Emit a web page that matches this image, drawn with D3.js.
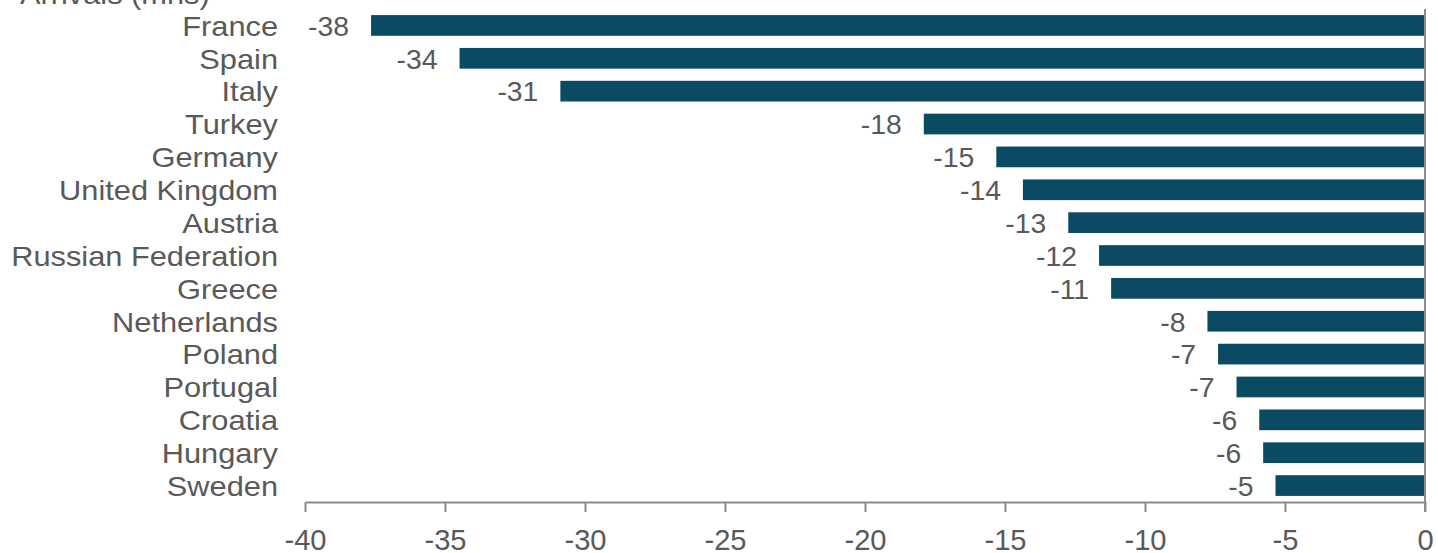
<!DOCTYPE html>
<html>
<head>
<meta charset="utf-8">
<script src="https://cdn.jsdelivr.net/npm/d3@7/dist/d3.min.js"></script>
<style>
  html, body { margin: 0; padding: 0; background: #ffffff; }
  svg { display: block; }
  text { font-family: "Liberation Sans", Arial, sans-serif; fill: #595959; }
</style>
</head>
<body>
<script>
// Change in international tourist arrivals, millions
const countries = ["France", "Spain", "Italy", "Turkey", "Germany", "United Kingdom", "Austria",
  "Russian Federation", "Greece", "Netherlands", "Poland", "Portugal", "Croatia", "Hungary", "Sweden"];
const arrivalChange = [-37.64, -34.48, -30.88, -17.9, -15.31, -14.36, -12.74,
  -11.64, -11.21, -7.77, -7.39, -6.73, -5.92, -5.78, -5.34];
const xTicks = [-40, -35, -30, -25, -20, -15, -10, -5, 0];
const axisTitle = "Arrivals (mns)";

const W = 1438, H = 553;
const FONT = 27;        // type size for labels
const STRETCH = 1.14;   // horizontal text stretch for category labels
const VSTRETCH = 1.05;  // horizontal text stretch for value labels
const TICK_FONT = 30;

const svg = d3.select("body").append("svg")
  .attr("width", W).attr("height", H);

const x = d3.scaleLinear().domain([-40, 0]).range([305, 1425]);
const y = d3.scaleBand().domain(countries).range([9, 502])
  .paddingInner(0.37).paddingOuter(0.185);

const fmt = v => String(Math.round(v));

const data = countries.map((c, i) => ({ name: c, value: arrivalChange[i] }));

// bars
svg.append("g").selectAll("rect").data(data).join("rect")
  .attr("x", d => x(d.value))
  .attr("y", d => y(d.name))
  .attr("width", d => x(0) - x(d.value))
  .attr("height", y.bandwidth())
  .attr("fill", "#0b4a63");

// category labels
svg.append("g").selectAll("text").data(data).join("text")
  .attr("transform", d => `translate(278,${y(d.name) + y.bandwidth() / 2}) scale(${STRETCH},1)`)
  .attr("dy", "0.38em")
  .attr("text-anchor", "end")
  .style("font-size", FONT + "px")
  .text(d => d.name);

// value labels
svg.append("g").selectAll("text").data(data).join("text")
  .attr("transform", d => `translate(${x(d.value) - 22},${y(d.name) + y.bandwidth() / 2}) scale(${VSTRETCH},1)`)
  .attr("dy", "0.38em")
  .attr("text-anchor", "end")
  .style("font-size", FONT + "px")
  .text(d => fmt(d.value));

// x axis
const xAxis = d3.axisBottom(x)
  .tickValues(xTicks)
  .tickFormat(fmt)
  .tickSizeInner(10)
  .tickSizeOuter(0)
  .tickPadding(20);

const gx = svg.append("g")
  .attr("transform", "translate(0,502)")
  .call(xAxis);
gx.select(".domain").attr("stroke", "#8c8c8c").attr("stroke-width", 2);
gx.selectAll(".tick line").attr("stroke", "#8c8c8c").attr("stroke-width", 2);
gx.selectAll(".tick text")
  .attr("fill", "#595959")
  .attr("y", 48.5)
  .attr("dy", 0)
  .style("font-family", "\"Liberation Sans\", Arial, sans-serif")
  .style("font-size", TICK_FONT + "px")
  .attr("transform", "scale(0.97,1)");

// vertical zero line
svg.append("line")
  .attr("x1", x(0)).attr("x2", x(0))
  .attr("y1", 9).attr("y2", 512)
  .attr("stroke", "#8c8c8c").attr("stroke-width", 2);

// axis title
svg.append("text")
  .attr("transform", `translate(20,4) scale(${STRETCH},1)`)
  .style("font-size", FONT + "px")
  .text(axisTitle);
</script>
</body>
</html>
